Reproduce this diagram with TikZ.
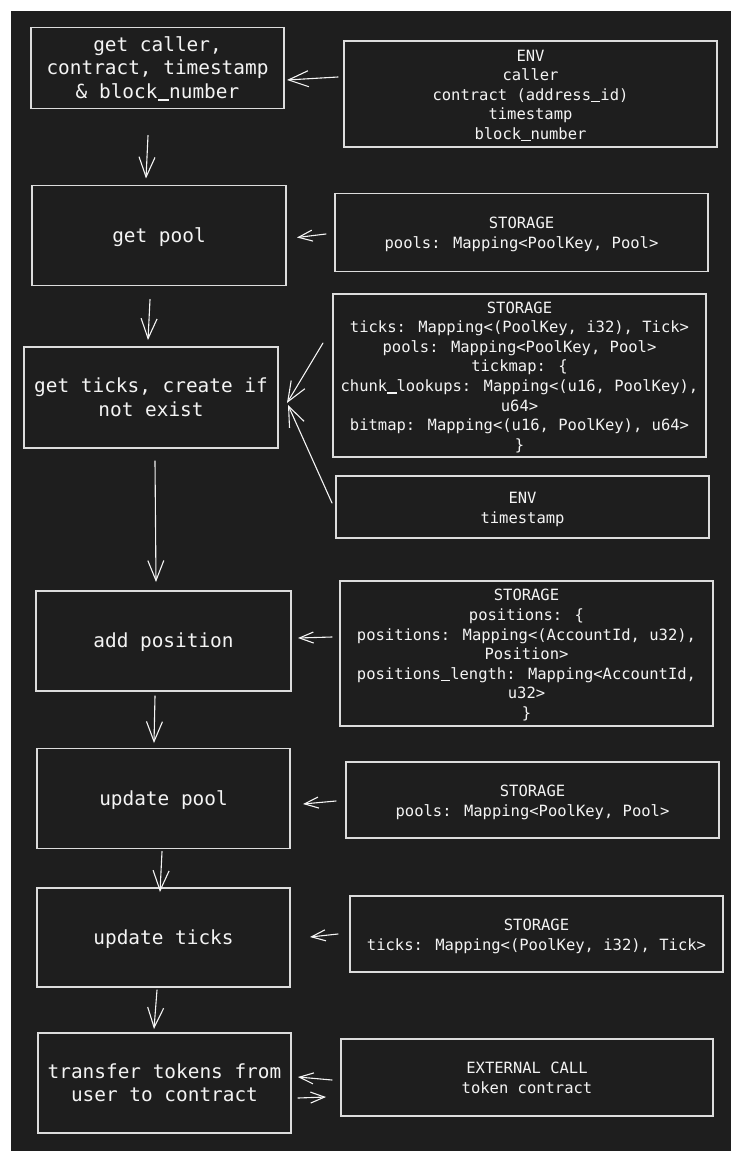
\documentclass[tikz,border=0pt]{standalone}
\usepackage{fontspec}
\newfontfamily\codefont{DejaVu Sans Mono}
\usetikzlibrary{arrows.meta,calc}
\definecolor{bgdark}{HTML}{1E1E1E}
\definecolor{strokec}{HTML}{DCDCDC}
\definecolor{textc}{HTML}{F4F4F4}
\newcommand\us{\makebox[0.602em][l]{\rule[-0.13em]{0.602em}{1.3pt}}}
\newcommand\tl[1]{\raisebox{-0.38em}[0pt][0pt]{\begin{tabular}{@{}c@{}}#1\end{tabular}}}
\tikzset{
  procbox/.style={draw=strokec, line width=1.2pt, fill=bgdark, inner sep=0pt, outer sep=0pt,
    text=textc, font=\codefont\fontsize{19.4}{23.4}\selectfont},
  infobox/.style={draw=strokec, line width=1.2pt, fill=bgdark, inner sep=0pt, outer sep=0pt,
    text=textc, font=\codefont\fontsize{15.5}{19.6}\selectfont},
  arr/.style={draw=textc, line width=1.1pt, line cap=round,
    -{Straight Barb[length=20pt,width=16pt,line width=1.1pt]}},
  sarr/.style={draw=textc, line width=1.1pt, line cap=round,
    -{Straight Barb[length=14pt,width=11pt,line width=1.1pt]}},
}
\begin{document}
\begin{tikzpicture}[x=1pt,y=-1pt]
\useasboundingbox (0,0) rectangle (740,1161);
\fill[white] (0,0) rectangle (740,1161);
\fill[bgdark] (11,11) rectangle (731,1151);

% process boxes (left column)
\node[procbox, minimum width=253pt, minimum height=81pt] (caller) at (157.5,68)
  {\tl{get caller,\\contract, timestamp\\\& block\us number}};
\node[procbox, minimum width=254pt, minimum height=100pt] (pool) at (159,235.5) {\tl{get pool}};
\node[procbox, minimum width=254pt, minimum height=101pt] (ticks) at (151,397.5)
  {\tl{get ticks, create if\\not exist}};
\node[procbox, minimum width=255pt, minimum height=100pt] (addpos) at (163.5,641) {\tl{add position}};
\node[procbox, minimum width=253pt, minimum height=100pt] (updpool) at (163.5,798.5) {\tl{update pool}};
\node[procbox, minimum width=253pt, minimum height=99pt] (updticks) at (163.5,937.5) {\tl{update ticks}};
\node[procbox, minimum width=253pt, minimum height=100pt] (transfer) at (164.5,1083)
  {\tl{transfer tokens from\\user to contract}};

% info boxes (right column)
\node[infobox, minimum width=373pt, minimum height=106pt] (env1) at (530.5,94)
  {\tl{ENV\\caller\\contract (address\us id)\\timestamp\\block\us number}};
\node[infobox, minimum width=373pt, minimum height=78pt] (stpools1) at (521.5,232.5)
  {\tl{STORAGE\\pools: Mapping<PoolKey, Pool>}};
\node[infobox, minimum width=373pt, minimum height=163pt] (stticks1) at (519.5,375.5)
  {\tl{STORAGE\\ticks: Mapping<(PoolKey, i32), Tick>\\pools: Mapping<PoolKey, Pool>\\tickmap: \{\\chunk\us lookups: Mapping<(u16, PoolKey),\\u64>\\bitmap: Mapping<(u16, PoolKey), u64>\\\}}};
\node[infobox, minimum width=373pt, minimum height=62pt] (envts) at (522.5,507)
  {\tl{ENV\\timestamp}};
\node[infobox, minimum width=373pt, minimum height=145pt] (stpos) at (526.5,653.5)
  {\tl{STORAGE\\positions: \{\\positions: Mapping<(AccountId, u32),\\Position>\\positions\us length: Mapping<AccountId,\\u32>\\\}}};
\node[infobox, minimum width=373pt, minimum height=76pt] (stpools2) at (532.5,800)
  {\tl{STORAGE\\pools: Mapping<PoolKey, Pool>}};
\node[infobox, minimum width=373pt, minimum height=76pt] (stticks2) at (536.5,934)
  {\tl{STORAGE\\ticks: Mapping<(PoolKey, i32), Tick>}};
\node[infobox, minimum width=372pt, minimum height=77pt] (ext) at (527,1077.5)
  {\tl{EXTERNAL CALL\\token contract}};

% connectors
\draw[arr] ($(env1.west)+(-6,-17)$) -- ($(caller.east)+(3,12)$);
\draw[arr] ($(caller.south)+(-9.5,27)$) -- ($(pool.north)+(-13,-7)$);
\draw[sarr] ($(stpools1.west)+(-9,1.5)$) -- ($(pool.east)+(11,2)$);
\draw[arr] ($(pool.south)+(-9,14)$) -- ($(ticks.north)+(-3,-7)$);
\draw[arr] ($(stticks1.west)+(-10,-32.5)$) -- ($(ticks.east)+(9,5.5)$);
\draw[arr] ($(envts.west)+(-4,-4)$) -- ($(ticks.east)+(10,7.5)$);
\draw[arr] ($(ticks.south)+(4,13)$) -- ($(addpos.north)+(-7.5,-9)$);
\draw[sarr] ($(stpos.west)+(-8,-16.5)$) -- ($(addpos.east)+(7,-3)$);
\draw[arr] ($(addpos.south)+(-8.5,5)$) -- ($(updpool.north)+(-9.5,-5.5)$);
\draw[sarr] ($(stpools2.west)+(-10,1)$) -- ($(updpool.east)+(13,5.5)$);
\draw[arr] ($(updpool.south)+(-1.5,3)$) -- ($(updticks.north)+(-3.5,4)$);
\draw[sarr] ($(stticks2.west)+(-12,0)$) -- ($(updticks.east)+(20,-0.5)$);
\draw[arr] ($(updticks.south)+(-6.5,3)$) -- ($(transfer.north)+(-10.5,-4)$);
\draw[sarr] ($(ext.west)+(-9,2.5)$) -- ($(transfer.east)+(7,-6)$);
\draw[sarr] ($(transfer.east)+(7,15)$) -- ($(ext.west)+(-15,19.5)$);
\end{tikzpicture}
\end{document}
